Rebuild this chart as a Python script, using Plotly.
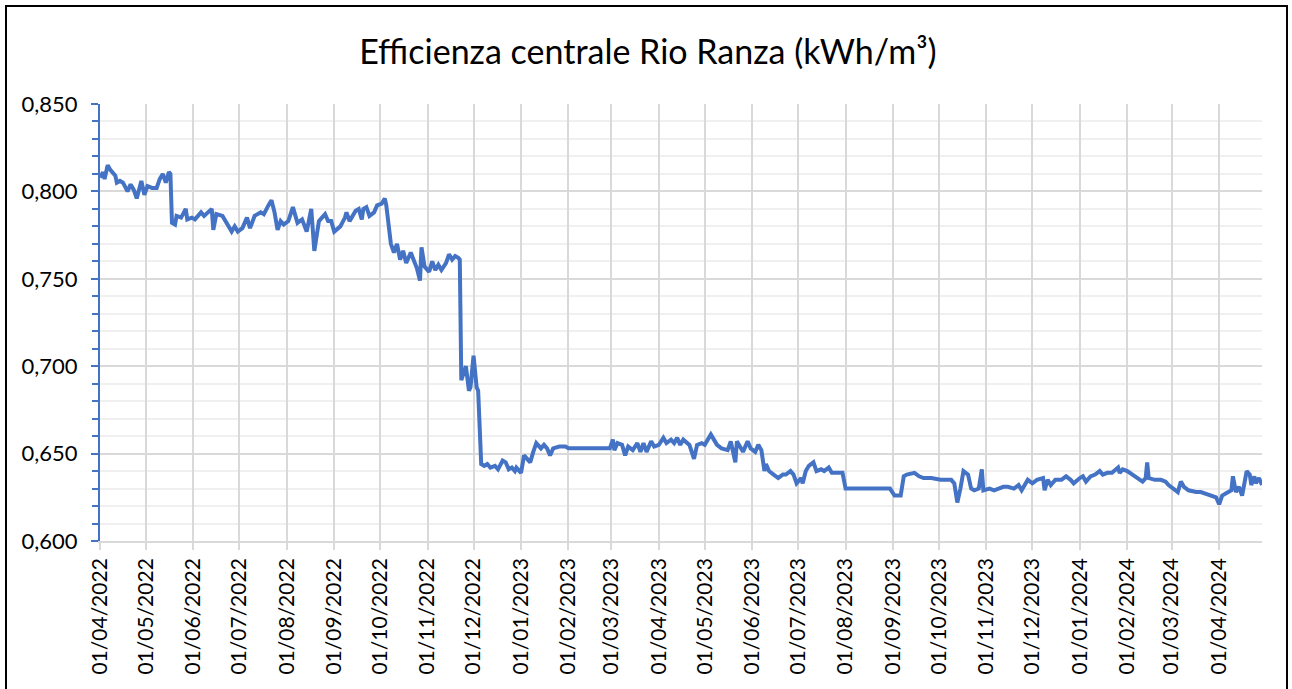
import plotly.graph_objects as go

# Daily efficiency readings (kWh/m³)
dates = [
    "2022-04-01", "2022-04-03", "2022-04-04", "2022-04-06", "2022-04-08", "2022-04-11", "2022-04-12",
    "2022-04-14", "2022-04-16", "2022-04-19", "2022-04-21", "2022-04-23", "2022-04-25", "2022-04-27",
    "2022-04-28", "2022-04-30", "2022-05-02", "2022-05-05", "2022-05-08", "2022-05-10", "2022-05-12",
    "2022-05-14", "2022-05-16", "2022-05-17", "2022-05-18", "2022-05-20", "2022-05-21", "2022-05-24",
    "2022-05-27", "2022-05-28", "2022-05-31", "2022-06-02", "2022-06-06", "2022-06-08", "2022-06-13",
    "2022-06-14", "2022-06-16", "2022-06-20", "2022-06-23", "2022-06-26", "2022-06-28", "2022-06-30",
    "2022-07-03", "2022-07-06", "2022-07-08", "2022-07-11", "2022-07-15", "2022-07-17", "2022-07-20",
    "2022-07-22", "2022-07-24", "2022-07-26", "2022-07-28", "2022-07-30", "2022-08-02", "2022-08-05",
    "2022-08-08", "2022-08-11", "2022-08-14", "2022-08-16", "2022-08-17", "2022-08-19", "2022-08-22",
    "2022-08-24", "2022-08-26", "2022-08-28", "2022-08-30", "2022-09-01", "2022-09-05", "2022-09-08",
    "2022-09-09", "2022-09-11", "2022-09-15", "2022-09-17", "2022-09-19", "2022-09-20", "2022-09-22",
    "2022-09-24", "2022-09-27", "2022-09-29", "2022-10-02", "2022-10-04", "2022-10-05", "2022-10-08",
    "2022-10-10", "2022-10-12", "2022-10-14", "2022-10-16", "2022-10-18", "2022-10-21", "2022-10-23",
    "2022-10-25", "2022-10-27", "2022-10-28", "2022-10-30", "2022-11-02", "2022-11-04", "2022-11-06",
    "2022-11-08", "2022-11-10", "2022-11-13", "2022-11-15", "2022-11-17", "2022-11-19", "2022-11-21",
    "2022-11-22", "2022-11-23", "2022-11-26", "2022-11-28", "2022-11-29", "2022-12-01", "2022-12-03",
    "2022-12-04", "2022-12-06", "2022-12-08", "2022-12-10", "2022-12-12", "2022-12-15", "2022-12-17",
    "2022-12-20", "2022-12-22", "2022-12-24", "2022-12-26", "2022-12-28", "2022-12-29", "2023-01-01",
    "2023-01-03", "2023-01-05", "2023-01-07", "2023-01-09", "2023-01-11", "2023-01-14", "2023-01-16",
    "2023-01-18", "2023-01-20", "2023-01-22", "2023-01-26", "2023-01-30", "2023-02-01", "2023-02-28",
    "2023-03-02", "2023-03-03", "2023-03-05", "2023-03-08", "2023-03-10", "2023-03-12", "2023-03-15",
    "2023-03-18", "2023-03-20", "2023-03-22", "2023-03-24", "2023-03-27", "2023-03-29", "2023-04-01",
    "2023-04-04", "2023-04-06", "2023-04-09", "2023-04-11", "2023-04-13", "2023-04-15", "2023-04-17",
    "2023-04-21", "2023-04-24", "2023-04-26", "2023-04-29", "2023-05-01", "2023-05-05", "2023-05-07",
    "2023-05-09", "2023-05-12", "2023-05-16", "2023-05-18", "2023-05-21", "2023-05-22", "2023-05-24",
    "2023-05-26", "2023-05-29", "2023-05-31", "2023-06-03", "2023-06-05", "2023-06-07", "2023-06-09",
    "2023-06-10", "2023-06-12", "2023-06-15", "2023-06-18", "2023-06-21", "2023-06-23", "2023-06-26",
    "2023-06-28", "2023-06-30", "2023-07-03", "2023-07-04", "2023-07-06", "2023-07-08", "2023-07-11",
    "2023-07-13", "2023-07-16", "2023-07-18", "2023-07-21", "2023-07-23", "2023-07-28", "2023-07-30",
    "2023-08-01", "2023-08-30", "2023-09-02", "2023-09-06", "2023-09-08", "2023-09-10", "2023-09-15",
    "2023-09-18", "2023-09-21", "2023-09-26", "2023-10-02", "2023-10-09", "2023-10-11", "2023-10-13",
    "2023-10-15", "2023-10-17", "2023-10-20", "2023-10-22", "2023-10-24", "2023-10-27", "2023-10-29",
    "2023-10-30", "2023-11-03", "2023-11-06", "2023-11-09", "2023-11-12", "2023-11-15", "2023-11-19",
    "2023-11-22", "2023-11-24", "2023-11-28", "2023-12-01", "2023-12-04", "2023-12-08", "2023-12-09",
    "2023-12-11", "2023-12-13", "2023-12-16", "2023-12-20", "2023-12-23", "2023-12-26", "2023-12-28",
    "2024-01-01", "2024-01-03", "2024-01-05", "2024-01-08", "2024-01-11", "2024-01-14", "2024-01-16",
    "2024-01-19", "2024-01-22", "2024-01-26", "2024-01-27", "2024-01-29", "2024-02-01", "2024-02-04",
    "2024-02-08", "2024-02-11", "2024-02-13", "2024-02-14", "2024-02-15", "2024-02-19", "2024-02-23",
    "2024-02-26", "2024-02-28", "2024-03-03", "2024-03-05", "2024-03-07", "2024-03-09", "2024-03-12",
    "2024-03-17", "2024-03-20", "2024-03-23", "2024-03-27", "2024-03-30", "2024-04-01", "2024-04-03",
    "2024-04-07", "2024-04-09", "2024-04-10", "2024-04-12", "2024-04-14", "2024-04-16", "2024-04-19",
    "2024-04-21", "2024-04-22", "2024-04-24", "2024-04-25", "2024-04-27", "2024-04-29",
]

efficiency = [
    0.808, 0.811, 0.807, 0.815, 0.812, 0.809, 0.805,
    0.806, 0.805, 0.800, 0.804, 0.801, 0.796, 0.803,
    0.806, 0.798, 0.803, 0.802, 0.802, 0.807, 0.810,
    0.805, 0.811, 0.810, 0.782, 0.781, 0.786, 0.785,
    0.790, 0.784, 0.785, 0.784, 0.788, 0.786, 0.790,
    0.778, 0.787, 0.786, 0.781, 0.777, 0.780, 0.777,
    0.779, 0.785, 0.779, 0.786, 0.788, 0.787, 0.792,
    0.795, 0.788, 0.778, 0.783, 0.781, 0.783, 0.791,
    0.782, 0.784, 0.777, 0.785, 0.790, 0.766, 0.783,
    0.785, 0.787, 0.783, 0.783, 0.777, 0.780, 0.785,
    0.788, 0.783, 0.789, 0.790, 0.784, 0.790, 0.791,
    0.786, 0.788, 0.792, 0.793, 0.796, 0.792, 0.770,
    0.765, 0.770, 0.761, 0.766, 0.759, 0.765, 0.760,
    0.756, 0.749, 0.768, 0.757, 0.754, 0.760, 0.755,
    0.758, 0.755, 0.759, 0.764, 0.761, 0.763, 0.762,
    0.761, 0.692, 0.700, 0.686, 0.688, 0.706, 0.688,
    0.686, 0.644, 0.643, 0.644, 0.642, 0.643, 0.641,
    0.646, 0.645, 0.641, 0.642, 0.640, 0.642, 0.639,
    0.649, 0.647, 0.645, 0.651, 0.656, 0.653, 0.655,
    0.653, 0.649, 0.653, 0.654, 0.654, 0.653, 0.653,
    0.658, 0.652, 0.656, 0.655, 0.649, 0.654, 0.652,
    0.656, 0.651, 0.656, 0.651, 0.657, 0.654, 0.655,
    0.659, 0.656, 0.658, 0.656, 0.659, 0.655, 0.658,
    0.655, 0.647, 0.655, 0.656, 0.655, 0.661, 0.658,
    0.655, 0.653, 0.652, 0.657, 0.645, 0.657, 0.654,
    0.651, 0.657, 0.653, 0.651, 0.655, 0.652, 0.640,
    0.644, 0.640, 0.638, 0.636, 0.638, 0.638, 0.640,
    0.638, 0.633, 0.636, 0.633, 0.640, 0.643, 0.645,
    0.640, 0.641, 0.640, 0.642, 0.639, 0.639, 0.639,
    0.630, 0.630, 0.626, 0.626, 0.637, 0.638, 0.639,
    0.637, 0.636, 0.636, 0.635, 0.635, 0.633, 0.622,
    0.630, 0.640, 0.638, 0.630, 0.629, 0.630, 0.641,
    0.629, 0.630, 0.629, 0.630, 0.631, 0.631, 0.630,
    0.632, 0.629, 0.635, 0.633, 0.635, 0.636, 0.629,
    0.635, 0.632, 0.635, 0.635, 0.637, 0.635, 0.633,
    0.636, 0.637, 0.634, 0.637, 0.638, 0.640, 0.638,
    0.639, 0.639, 0.642, 0.639, 0.641, 0.640, 0.638,
    0.636, 0.634, 0.636, 0.645, 0.636, 0.635, 0.635,
    0.634, 0.632, 0.629, 0.628, 0.634, 0.631, 0.629,
    0.628, 0.628, 0.627, 0.626, 0.625, 0.621, 0.626,
    0.628, 0.629, 0.637, 0.628, 0.631, 0.626, 0.640,
    0.638, 0.632, 0.637, 0.633, 0.636, 0.632,
]

title_text = "Efficienza centrale Rio Ranza (kWh/m³)"
x_range = ["2022-04-01", "2024-04-29"]
y_range = [0.600, 0.850]

LINE_BLUE = "#4472C4"
GRID = "#D9D9D9"
MINOR_GRID = "#F0F0F0"
FONT = "Lato"

fig = go.Figure()
fig.add_trace(go.Scatter(
    x=dates, y=efficiency, mode="lines",
    line=dict(color=LINE_BLUE, width=4),
    showlegend=False, hoverinfo="x+y",
))

W, H = 1292, 689
ml, mr, mt, mb = 100, 30, 104, 148
pw, ph = W - ml - mr, H - mt - mb

def px_to_paper_x(px):
    return (px - ml) / pw

def px_to_paper_y(py):
    return (H - mb - py) / ph

fig.update_layout(
    width=W, height=H,
    margin=dict(l=ml, r=mr, t=mt, b=mb, autoexpand=False),
    paper_bgcolor="white", plot_bgcolor="white",
    separators=",.",
    font=dict(family=FONT, size=22, color="#000000"),
    title=dict(
        text=title_text, x=0.5015, xref="container", xanchor="center",
        y=1 - 52 / H, yref="container", yanchor="middle",
        font=dict(family=FONT, size=34, color="#000000"),
    ),
    xaxis=dict(
        type="date", range=x_range,
        tick0="2022-04-01", dtick="M1", tickformat="%d/%m/%Y",
        tickangle=-90, ticks="outside", ticklen=7, tickcolor=GRID, tickwidth=1.5,
        showgrid=True, gridcolor=GRID, gridwidth=1.5,
        showline=True, linecolor=GRID, linewidth=1.5,
        tickfont=dict(family=FONT, size=21, color="#000000"),
        zeroline=False,
    ),
    yaxis=dict(
        range=y_range, dtick=0.05, tick0=0.6, tickformat=".3f",
        ticks="outside", ticklen=7, tickcolor=LINE_BLUE, tickwidth=1.5,
        ticklabelstandoff=9,
        showgrid=True, gridcolor=GRID, gridwidth=1.5,
        showline=True, linecolor=LINE_BLUE, linewidth=2,
        tickfont=dict(family=FONT, size=22, color="#000000"),
        zeroline=False,
        minor=dict(dtick=0.01, showgrid=True, gridcolor=MINOR_GRID, gridwidth=1.5,
                   ticks="outside", ticklen=6, tickcolor=LINE_BLUE, tickwidth=1.5),
    ),
)

# outer chart frame
fig.add_shape(
    type="rect", xref="paper", yref="paper",
    x0=px_to_paper_x(6), x1=px_to_paper_x(1287),
    y0=px_to_paper_y(700), y1=px_to_paper_y(6),
    line=dict(color="#000000", width=2), fillcolor="rgba(0,0,0,0)", layer="above",
)

fig.write_html(
    "out.html",
    config={"displayModeBar": False},
    post_script="document.body.style.margin='0';document.body.style.overflow='hidden';",
)
